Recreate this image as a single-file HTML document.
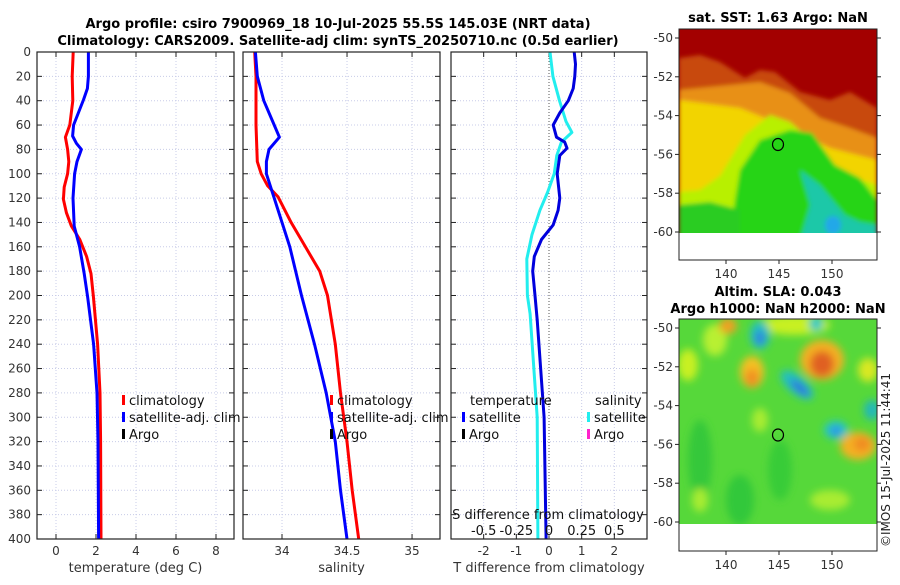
<!DOCTYPE html>
<html><head><meta charset="utf-8"><style>
body{margin:0;background:#fff;}
svg text{font-family:"DejaVu Sans","Liberation Sans",sans-serif;fill:#222;}
.t{font-weight:bold;fill:#000;font-size:13px;}
.tk{font-size:12px;fill:#333;}
.lg{font-size:13px;fill:#111;}
</style></head><body>
<svg id="fig" width="900" height="580" viewBox="0 0 900 580" xmlns="http://www.w3.org/2000/svg">
<defs>
<filter id="blur4" x="-20%" y="-20%" width="140%" height="140%"><feGaussianBlur stdDeviation="4"/></filter>
<filter id="blur2"><feGaussianBlur stdDeviation="2"/></filter>
<clipPath id="c1"><rect x="679" y="29" width="198" height="204"/></clipPath>
<clipPath id="c2"><rect x="679" y="319" width="198" height="205"/></clipPath>
</defs>
<text class="t" x="338" y="28" text-anchor="middle">Argo profile: csiro 7900969_18 10-Jul-2025 55.5S 145.03E (NRT data)</text>
<text class="t" x="338" y="45" text-anchor="middle">Climatology: CARS2009. Satellite-adj clim: synTS_20250710.nc (0.5d earlier)</text>
<g id="plots"></g>

<!-- SST map -->
<g>
<text class="t" x="778" y="22" text-anchor="middle">sat. SST: 1.63 Argo: NaN</text>
<g clip-path="url(#c1)">
<rect x="679" y="29" width="198" height="204" fill="#a30000"/>
<g filter="url(#blur2)">
<polygon fill="#c84a10" points="679,58 700,55 720,62 745,78 760,70 775,72 800,92 830,100 850,92 877,108 877,240 679,240"/>
<polygon fill="#e89018" points="679,90 720,86 760,82 790,93 820,118 850,128 877,138 877,240 679,240"/>
<polygon fill="#f2d400" points="679,100 740,108 790,128 830,148 877,160 877,240 679,240"/>
<polygon fill="#b8f000" points="679,192 700,190 720,176 745,135 770,115 790,122 805,135 830,170 877,185 877,240 679,240"/>
<polygon fill="#28d418" points="740,170 760,140 790,130 812,133 835,165 860,178 877,200 877,240 730,240 735,200"/>
<polygon fill="#2ccc20" points="679,205 710,202 740,210 740,240 679,240"/>
<polygon fill="#1ec8a8" points="800,170 820,185 845,215 860,222 877,225 877,240 800,240 810,205"/>
<ellipse cx="833" cy="225" rx="8" ry="9" fill="#20a8e8"/>
</g>
</g>
<rect x="679" y="29" width="198" height="231" fill="none" stroke="#222" stroke-width="1"/>
<g id="map1ax"></g>
<ellipse cx="778" cy="144.5" rx="5.5" ry="6" fill="none" stroke="#000" stroke-width="1.2"/>
</g>

<!-- SLA map -->
<g>
<text class="t" x="778" y="296" text-anchor="middle">Altim. SLA: 0.043</text>
<text class="t" x="778" y="313" text-anchor="middle">Argo h1000: NaN h2000: NaN</text>
<g clip-path="url(#c2)">
<rect x="679" y="319" width="198" height="205" fill="#56d83a"/>
<g filter="url(#blur4)">
<ellipse cx="700" cy="460" rx="12" ry="40" fill="#34c83a"/>
<ellipse cx="740" cy="500" rx="14" ry="25" fill="#30c83a"/>
<ellipse cx="780" cy="470" rx="12" ry="30" fill="#38cc38"/>
<ellipse cx="688" cy="365" rx="10" ry="16" fill="#c8f020"/>
<ellipse cx="715" cy="340" rx="12" ry="16" fill="#b8f030"/>
<ellipse cx="728" cy="326" rx="9" ry="8" fill="#f0a020"/>
<ellipse cx="752" cy="372" rx="12" ry="16" fill="#f5c020"/>
<ellipse cx="752" cy="378" rx="7" ry="9" fill="#f09020"/>
<ellipse cx="795" cy="325" rx="35" ry="10" fill="#c8f020"/>
<ellipse cx="822" cy="360" rx="22" ry="20" fill="#f4b020"/>
<ellipse cx="822" cy="364" rx="12" ry="13" fill="#e06020"/>
<ellipse cx="858" cy="446" rx="18" ry="14" fill="#f4b020"/>
<ellipse cx="862" cy="444" rx="8" ry="7" fill="#f08a20"/>
<ellipse cx="868" cy="370" rx="10" ry="12" fill="#d8e820"/>
<ellipse cx="760" cy="420" rx="8" ry="12" fill="#a8ec30"/>
<ellipse cx="830" cy="500" rx="20" ry="10" fill="#a8ec30"/>
<ellipse cx="700" cy="500" rx="8" ry="12" fill="#a8ec30"/>
<ellipse cx="760" cy="335" rx="10" ry="14" fill="#20c0c0"/>
<ellipse cx="760" cy="338" rx="5" ry="7" fill="#3080e0"/>
<ellipse cx="797" cy="385" rx="20" ry="9" transform="rotate(40 797 385)" fill="#20c0c0"/>
<ellipse cx="800" cy="388" rx="12" ry="4" transform="rotate(40 800 388)" fill="#3070e0"/>
<ellipse cx="836" cy="430" rx="12" ry="9" fill="#20c8c8"/>
<ellipse cx="836" cy="431" rx="6" ry="5" fill="#3090e8"/>
<ellipse cx="816" cy="324" rx="7" ry="7" fill="#20c8c8"/>
<ellipse cx="872" cy="410" rx="8" ry="10" fill="#20b8b8"/>
</g>
</g>
<rect x="679" y="319" width="198" height="232" fill="none" stroke="#222" stroke-width="1"/>
<g id="map2ax"></g>
<ellipse cx="778" cy="435" rx="5.5" ry="6" fill="none" stroke="#000" stroke-width="1.2"/>
</g>
<text x="890" y="460" font-size="12" text-anchor="middle" transform="rotate(-90 890 460)" fill="#222">©IMOS 15-Jul-2025 11:44:41</text>
</svg>
<script>
// ---- data ----
const depthTicks = [0,20,40,60,80,100,120,140,160,180,200,220,240,260,280,300,320,340,360,380,400];
const tClimDepth = [0,20,40,60,70,80,90,100,111,121,132,143,154,168,182,201,240,280,320,400];
const tClim =      [0.86,0.81,0.84,0.69,0.47,0.58,0.64,0.58,0.41,0.37,0.52,0.77,1.19,1.53,1.75,1.87,2.08,2.2,2.23,2.25];
const tSatDepth = [0,20,30,39,60,69,75,80,90,100,120,143,160,182,201,240,280,320,400];
const tSat =      [1.62,1.62,1.57,1.38,0.88,0.83,1.02,1.27,1.05,0.93,0.85,0.91,1.18,1.41,1.58,1.88,2.05,2.1,2.13];
const sClimDepth = [0,20,60,90,100,110,119,140,160,180,200,240,280,320,360,400];
const sClim =      [33.79,33.8,33.8,33.81,33.84,33.89,33.97,34.07,34.18,34.29,34.35,34.41,34.45,34.5,34.54,34.59];
const sSatDepth = [0,20,40,60,70,80,90,100,120,140,160,200,240,280,320,360,400];
const sSat =      [33.795,33.81,33.86,33.94,33.98,33.9,33.88,33.88,33.94,34.0,34.06,34.15,34.25,34.34,34.41,34.45,34.5];
const tDiffDepth = [0,10,20,30,40,50,60,70,74,79,85,100,120,130,142,154,168,180,200,220,300,400];
const tDiff =      [0.77,0.81,0.79,0.74,0.59,0.33,0.13,0.23,0.48,0.55,0.33,0.25,0.33,0.28,0.13,-0.23,-0.45,-0.5,-0.43,-0.36,-0.15,-0.09];
const sDiffDepth = [0,20,40,57,66,74,85,100,115,130,150,170,200,215,300,400];
const sDiff =      [0.008,0.03,0.08,0.13,0.175,0.095,0.06,0.04,-0.01,-0.07,-0.13,-0.17,-0.165,-0.145,-0.09,-0.085];
const tempTicks = [0,2,4,6,8];
const salTicks = [34,34.5,35];
const tdTicks = [-2,-1,0,1,2];
const sdTicks = [-0.5,-0.25,0,0.25,0.5];
const sdTickLabels = ['-0.5','-0.25','0','0.25','0.5'];
const lonTicks = [140,145,150];
const latTicks = [-50,-52,-54,-56,-58,-60];

const NS='http://www.w3.org/2000/svg';
function mk(tag,attrs,parent){const e=document.createElementNS(NS,tag);for(const k in attrs)e.setAttribute(k,attrs[k]);parent.appendChild(e);return e;}
const top0=52, bot=539;
const yD = d => top0 + d*(bot-top0)/400;
const plots=document.getElementById('plots');

const panels=[
 {name:'temperature-panel',x0:37,x1:234,min:-0.95,max:8.9,ticks:tempTicks,labels:tempTicks.map(String),xlabel:'temperature (deg C)'},
 {name:'salinity-panel',x0:243,x1:440,min:33.7,max:35.215,ticks:salTicks,labels:salTicks.map(String),xlabel:'salinity'},
 {name:'difference-panel',x0:451,x1:647,min:-3,max:3,ticks:tdTicks,labels:tdTicks.map(String),xlabel:'T difference from climatology'}
];
panels.forEach((p,pi)=>{
  p.sx = v => p.x0 + (v-p.min)/(p.max-p.min)*(p.x1-p.x0);
  const g=mk('g',{},plots);
  
  
  p.ticks.forEach(t=>{
    const gl=mk('line',{x1:p.sx(t),x2:p.sx(t),y1:top0,y2:bot,stroke:'#c8cce8','stroke-width':1,'stroke-dasharray':'1,2'},g);
    
    
  });
  depthTicks.forEach(d=>{
    const gl=mk('line',{x1:p.x0,x2:p.x1,y1:yD(d),y2:yD(d),stroke:'#c8cce8','stroke-width':1,'stroke-dasharray':'1,2'},g);
    
    
    mk('line',{x1:p.x0,x2:p.x0+5,y1:yD(d),y2:yD(d),stroke:'#222'},g);
    mk('line',{x1:p.x1,x2:p.x1-5,y1:yD(d),y2:yD(d),stroke:'#222'},g);
    if(pi===0){
      const tl=mk('text',{x:31,y:yD(d)+4,'text-anchor':'end',class:'tk'},g);
      tl.textContent=d;
      
      
    }
  });
  p.ticks.forEach((t,i)=>{
    mk('line',{x1:p.sx(t),x2:p.sx(t),y1:bot,y2:bot-5,stroke:'#222'},g);
    mk('line',{x1:p.sx(t),x2:p.sx(t),y1:top0,y2:top0+5,stroke:'#222'},g);
    const tl=mk('text',{x:p.sx(t),y:555,'text-anchor':'middle',class:'tk'},g);
    tl.textContent=p.labels[i];
    
    
  });
  const xl=mk('text',{x:(p.x0+p.x1)/2,y:572,'text-anchor':'middle',class:'tk',style:'font-size:13px'},g);
  xl.textContent=p.xlabel;
  
  
  p.g=g;
});
function line(p,vals,deps,color,name,sx){
  const f=sx||p.sx;
  const pts=vals.map((v,i)=>f(v).toFixed(1)+','+yD(deps[i]).toFixed(1)).join(' ');
  const pl=mk('polyline',{points:pts,fill:'none',stroke:color,'stroke-width':3,'stroke-linejoin':'round'},p.g);
  
  
}
const P3=panels[2];
mk('line',{x1:P3.sx(0),x2:P3.sx(0),y1:top0,y2:bot,stroke:'#555','stroke-width':1,'stroke-dasharray':'1,2'},P3.g);
line(panels[0],tClim,tClimDepth,'#ff0000','temperature-climatology-line');
line(panels[0],tSat,tSatDepth,'#0000ff','temperature-satellite-line');
line(panels[1],sClim,sClimDepth,'#ff0000','salinity-climatology-line');
line(panels[1],sSat,sSatDepth,'#0000ff','salinity-satellite-line');
const sdx = v => P3.sx(v*4);
line(P3,sDiff,sDiffDepth,'#22eeee','salinity-difference-line',sdx);
line(P3,tDiff,tDiffDepth,'#0000dd','temperature-difference-line');
const sl=mk('text',{x:548,y:519,'text-anchor':'middle',class:'tk',style:'font-size:13px;fill:#111'},P3.g);
sl.textContent='S difference from climatology';


sdTicks.forEach((t,i)=>{
  const tl=mk('text',{x:sdx(t),y:535,'text-anchor':'middle',class:'tk',style:'font-size:13px;fill:#111'},P3.g);
  tl.textContent=sdTickLabels[i];
  
  
});
panels.forEach(p=>{mk('rect',{x:p.x0,y:top0,width:p.x1-p.x0,height:bot-top0,fill:'none',stroke:'#222','stroke-width':1.2},p.g);});
function leg(g,x,y,color,label){
  const e=mk('g',{},g);
  
  
  mk('rect',{x:x,y:y-10,width:3,height:10,fill:color},e);
  const t=mk('text',{x:x+7,y:y,class:'lg'},e);t.textContent=label;
}
[[panels[0],122],[panels[1],330]].forEach(([p,x])=>{
  leg(p.g,x,405,'#ff0000','climatology');
  leg(p.g,x,422,'#0000ff','satellite-adj. clim');
  leg(p.g,x,439,'#000000','Argo');
});
const h1=mk('text',{x:470,y:405,class:'lg'},P3.g);h1.textContent='temperature';
const h2=mk('text',{x:595,y:405,class:'lg'},P3.g);h2.textContent='salinity';
leg(P3.g,462,422,'#0000ff','satellite');
leg(P3.g,462,439,'#000000','Argo');
leg(P3.g,587,422,'#22eeee','satellite');
leg(P3.g,587,439,'#ff22cc','Argo');
function mapAx(id,yTop,yBot,latTop,latBot,frameBot){
  const g=document.getElementById(id);
  const lx=v=>726+(v-140)*10.6;
  const ly=v=>yTop+(latTop-v)*(yBot-yTop)/(latTop-latBot);
  lonTicks.forEach(v=>{
    mk('line',{x1:lx(v),x2:lx(v),y1:frameBot,y2:frameBot+4,stroke:'#222'},g);
    const t=mk('text',{x:lx(v),y:frameBot+18,'text-anchor':'middle',class:'tk'},g);t.textContent=v;
    
    
  });
  latTicks.forEach(v=>{
    mk('line',{x1:679,x2:675,y1:ly(v),y2:ly(v),stroke:'#222'},g);
    mk('line',{x1:877,x2:881,y1:ly(v),y2:ly(v),stroke:'#222'},g);
    const t=mk('text',{x:673,y:ly(v)+4,'text-anchor':'end',class:'tk'},g);t.textContent=v;
    
    
  });
}
mapAx('map1ax',38,232,-50,-60,260);
mapAx('map2ax',328,522,-50,-60,551);
</script>
</body></html>
